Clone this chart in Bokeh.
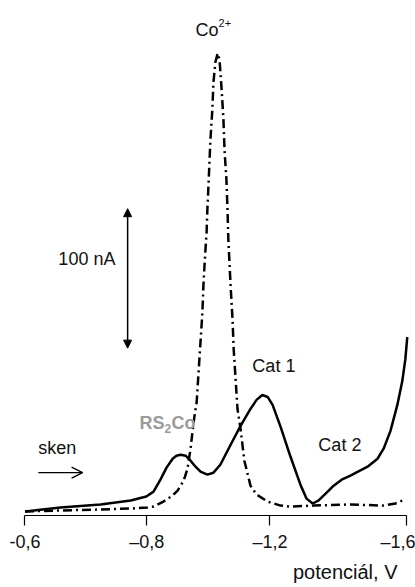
from bokeh.plotting import figure
from bokeh.models import Range1d, FixedTicker, Arrow, NormalHead, OpenHead, Title
from bokeh.core.properties import value
from bokeh.embed import file_html
from bokeh.resources import INLINE

FONT = "Liberation Sans"

# Solid curve (sample with RS2Co / catalytic peaks): potential V, current nA
solid_v = [-0.600, -0.693, -0.798, -0.877, -0.918, -0.937, -0.955, -0.971, -0.987, -0.997,
           -1.008, -1.021, -1.034, -1.047, -1.060, -1.078, -1.094, -1.112, -1.139, -1.165,
           -1.191, -1.207, -1.222, -1.236, -1.249, -1.270, -1.296, -1.322, -1.338, -1.354,
           -1.369, -1.388, -1.409, -1.430, -1.453, -1.498, -1.524, -1.540, -1.558, -1.576,
           -1.589, -1.597, -1.602]
solid_i = [2.9, 5.7, 7.9, 10.7, 13.6, 17.1, 25.7, 34.3, 40.7, 42.9,
           43.6, 42.9, 39.3, 35.0, 31.4, 29.3, 30.7, 36.4, 50.7, 64.3,
           76.4, 82.9, 86.4, 85.0, 79.3, 63.6, 42.1, 22.1, 12.1, 8.6,
           10.7, 15.7, 21.4, 25.7, 28.6, 35.0, 40.7, 47.9, 60.7, 79.3,
           96.4, 112.1, 127.9]

# Dash-dot curve (Co2+)
co_v = [-0.600, -0.693, -0.798, -0.877, -0.921, -0.937, -0.963, -0.987, -1.000, -1.016,
        -1.026, -1.034, -1.039, -1.044, -1.050, -1.055, -1.060, -1.065, -1.068, -1.073,
        -1.076, -1.078, -1.081, -1.086, -1.091, -1.094, -1.099, -1.105,
        -1.110, -1.115, -1.120, -1.123, -1.128, -1.131, -1.133, -1.139, -1.144, -1.147,
        -1.152, -1.157, -1.165, -1.175, -1.191, -1.207, -1.236, -1.270, -1.296, -1.356,
        -1.453, -1.540, -1.571, -1.589]
co_i = [2.9, 3.6, 4.3, 5.0, 5.7, 6.4, 10.0, 14.3, 17.9, 25.0,
        33.6, 47.9, 60.0, 70.7, 81.4, 102.9, 124.3, 145.7, 167.1, 190.7,
        202.9, 219.3, 237.1, 269.3, 290.7, 310.7, 325.0, 331.4,
        326.4, 307.1, 285.0, 262.1, 240.7, 217.9, 197.9, 164.3, 140.7, 119.3,
        97.9, 76.4, 62.1, 39.3, 21.4, 15.0, 10.0, 7.1, 6.4, 7.1,
        7.9, 7.1, 8.6, 10.7]

tick_pos = [-0.6, -0.919, -1.242, -1.6]
tick_labels = ["-0,6", "\u20130,8", "\u20131,2", "\u20131,6"]

p = figure(width=415, height=587, output_backend="svg", toolbar_location=None,
           x_range=Range1d(-0.53578, -1.62359), y_range=Range1d(0, 369.29),
           y_axis_type=None, min_border_left=0, min_border_right=0,
           min_border_top=0, min_border_bottom=70)
p.outline_line_color = None
p.xgrid.visible = False
p.ygrid.visible = False
p.background_fill_color = "white"

ax = p.xaxis[0]
ax.ticker = FixedTicker(ticks=tick_pos, minor_ticks=[])
ax.major_label_overrides = {t: l for t, l in zip(tick_pos, tick_labels)}
ax.bounds = (-1.6, -0.6)
ax.axis_line_color = "black"
ax.axis_line_width = 1.2
ax.major_tick_in = 0
ax.major_tick_out = 10
ax.major_tick_line_width = 1.2
ax.minor_tick_line_color = None
ax.major_label_standoff = 6
ax.major_label_text_font = FONT
ax.major_label_text_font_size = "18px"
ax.major_label_text_color = "#111111"

p.add_layout(Title(text="potenci\u00e1l, V", align="right", offset=18, standoff=9,
                   text_font=FONT, text_font_size="20px", text_font_style="normal",
                   text_color="#111111"), "below")

p.line(co_v, co_i, line_color="black", line_width=2.5, line_dash="9 4 2 4")
p.line(solid_v, solid_i, line_color="black", line_width=2.5)

txt = dict(text_font=value(FONT), text_color="#111111")
p.text(x=[-1.047], y=[347.9], text=["Co"], text_font_size="18px",
       text_baseline="alphabetic", text_align="left", **txt)
p.text(x=[-1.047], y=[347.9], text=["2+"], text_font_size="11px", x_offset=23, y_offset=-7,
       text_baseline="alphabetic", text_align="left", **txt)
p.text(x=[-0.837], y=[183.6], text=["100 nA"], text_font_size="18px",
       text_baseline="middle", text_align="right", **txt)
p.text(x=[-1.196], y=[107.1], text=["Cat 1"], text_font_size="18px",
       text_baseline="middle", text_align="left", **txt)
p.text(x=[-1.369], y=[50.7], text=["Cat 2"], text_font_size="18px",
       text_baseline="middle", text_align="left", **txt)
p.text(x=[-0.635], y=[48.6], text=["sken"], text_font_size="18px",
       text_baseline="middle", text_align="left", **txt)

grey = dict(text_font=value(FONT), text_color="#9a9a9a", text_font_style="bold")
p.text(x=[-0.900], y=[66.4], text=["RS"], text_font_size="18px",
       text_baseline="middle", text_align="left", **grey)
p.text(x=[-0.900], y=[66.4], text=["2"], text_font_size="12px", x_offset=25, y_offset=6,
       text_baseline="middle", text_align="left", **grey)
p.text(x=[-0.900], y=[66.4], text=["Co"], text_font_size="18px", x_offset=32,
       text_baseline="middle", text_align="left", **grey)

# 100 nA scale bar
p.add_layout(Arrow(x_start=-0.869, y_start=120, x_end=-0.869, y_end=220,
                   line_color="black", line_width=1.5,
                   start=NormalHead(size=8, fill_color="black", line_color="black"),
                   end=NormalHead(size=8, fill_color="black", line_color="black")))
# scan direction arrow
p.add_layout(Arrow(x_start=-0.635, y_start=30.7, x_end=-0.751, y_end=30.7,
                   line_color="black", line_width=1.3,
                   end=OpenHead(size=11, line_color="black", line_width=1.3)))

open("out.html", "w").write(file_html(p, INLINE))
